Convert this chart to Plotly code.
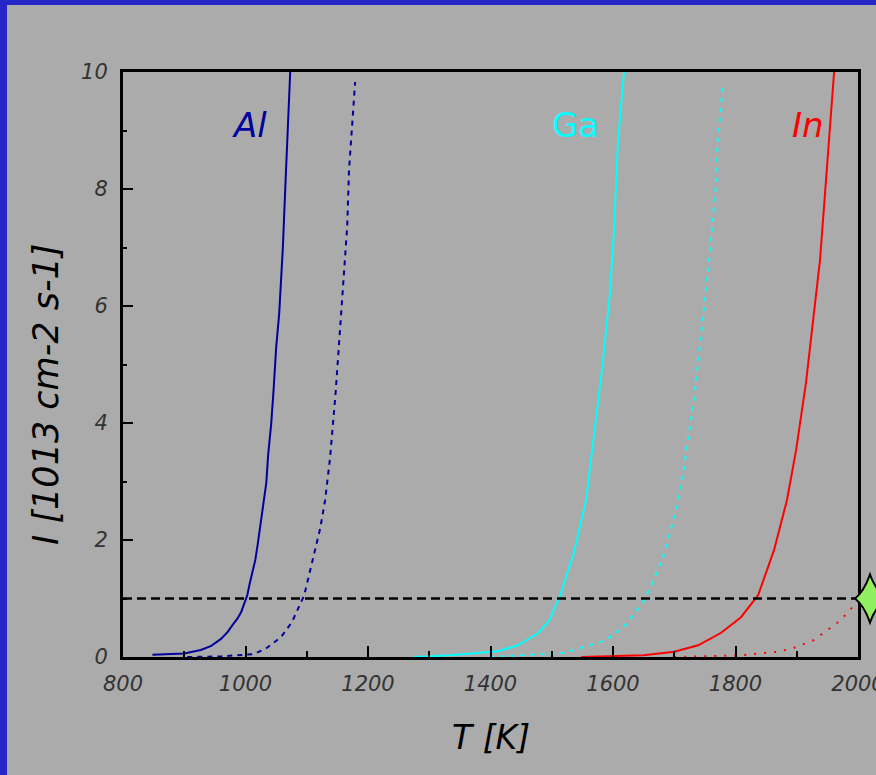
import plotly.graph_objects as go

# ---- data ----
al_T = [848, 900, 927, 944, 960, 971, 979, 987, 993, 998, 1003, 1007, 1012, 1016, 1020,
        1024, 1029, 1034, 1037, 1042, 1046, 1050, 1055, 1061, 1065, 1069, 1073]
al_I = [0.04, 0.06, 0.12, 0.19, 0.31, 0.43, 0.55, 0.66, 0.77, 0.91, 1.06, 1.26, 1.46, 1.66, 1.93,
        2.24, 2.57, 2.98, 3.46, 3.99, 4.59, 5.28, 5.87, 7.0, 8.03, 9.18, 10]

al2_T = [905, 960, 1014, 1034, 1058, 1076, 1096, 1112, 1122, 1130, 1138, 1147, 1156, 1166, 1169, 1176, 1179]
al2_I = [0.0, 0.01, 0.05, 0.15, 0.34, 0.6, 1.06, 1.78, 2.2, 2.68, 3.4, 4.5, 5.88, 7.35, 8.32, 9.35, 9.83]

ga_T = [1275, 1335, 1412, 1445, 1478, 1496, 1514, 1536, 1556, 1569, 1583, 1595, 1602, 1608, 1618]
ga_I = [0.0, 0.03, 0.1, 0.2, 0.41, 0.63, 1.06, 1.78, 2.68, 3.83, 5.0, 6.22, 7.35, 8.79, 10]

ga2_T = [1400, 1520, 1580, 1602, 1625, 1651, 1664, 1682, 1700, 1716, 1732, 1745, 1757, 1767, 1771, 1780]
ga2_I = [0.0, 0.07, 0.26, 0.38, 0.6, 0.97, 1.26, 1.71, 2.39, 3.25, 4.39, 5.6, 6.79, 7.93, 8.84, 9.81]

in_T = [1548, 1650, 1700, 1739, 1776, 1809, 1837, 1863, 1884, 1899, 1915, 1927, 1938, 1945, 1953, 1961]
in_I = [0.0, 0.03, 0.09, 0.2, 0.41, 0.68, 1.06, 1.83, 2.68, 3.54, 4.68, 5.8, 6.79, 7.76, 8.96, 10]

in2_T = [1700, 1809, 1869, 1894, 1928, 1951, 1972, 1994, 2000]
in2_I = [0.0, 0.03, 0.09, 0.15, 0.29, 0.46, 0.63, 0.89, 0.95]

ref_T = [800, 2000]
ref_I = [1, 1]

marker_I = [1]   # green marker sits on the right-hand axis at this level

x_ticks = [800, 1000, 1200, 1400, 1600, 1800, 2000]
y_ticks = [0, 2, 4, 6, 8, 10]

series_labels = ["Al", "Ga", "In"]

# ---- layout constants ----
W, H = 876, 775
L, R, T, B = 123, 18, 72, 118
PW, PH = W - L - R, H - T - B

def px(xp):
    return (xp - L) / PW

def py(yp):
    return (H - B - yp) / PH

NAVY = "#00009c"
CYAN = "#00ffff"
RED = "#ff0000"
FONT = "DejaVu Sans"

fig = go.Figure()

def line(xs, ys, color, dash):
    fig.add_trace(go.Scatter(x=xs, y=ys, mode="lines",
                             line=dict(color=color, width=2, dash=dash),
                             showlegend=False, hoverinfo="skip"))

line(al_T, al_I, NAVY, "solid")
line(al2_T, al2_I, NAVY, "5px,5px")
line(ga_T, ga_I, CYAN, "solid")
line(ga2_T, ga2_I, CYAN, "4px,6px")
line(in_T, in_I, RED, "solid")
line(in2_T, in2_I, RED, "2px,8px")

fig.add_trace(go.Scatter(x=ref_T, y=ref_I, mode="lines",
                         line=dict(color="black", width=2.5, dash="9px,5px"),
                         showlegend=False, hoverinfo="skip"))

tickfont = dict(family=FONT, size=21, color="#333333", style="italic")

fig.update_xaxes(range=[800, 2000], tickvals=x_ticks, ticks="inside", ticklen=11, tickwidth=2,
                 tickcolor="black", showline=True, linecolor="black", linewidth=3, mirror=True,
                 showgrid=False, zeroline=False, tickfont=tickfont, ticklabeloverflow="allow",
                 ticklabelstandoff=6,
                 minor=dict(ticks="inside", ticklen=6, tickwidth=2, tickcolor="black", dtick=100,
                            showgrid=False))
fig.update_yaxes(range=[0, 10], tickvals=y_ticks, ticks="inside", ticklen=10, tickwidth=2,
                 tickcolor="black", showline=True, linecolor="black", linewidth=3, mirror=True,
                 showgrid=False, zeroline=False, tickfont=tickfont, ticklabelstandoff=8,
                 minor=dict(ticks="inside", ticklen=4, tickwidth=2, tickcolor="black", dtick=1,
                            showgrid=False))

annos = [
    dict(x=1006, y=9.1, xref="x", yref="y", text=series_labels[0], showarrow=False,
         font=dict(family=FONT, size=34, color=NAVY, style="italic")),
    dict(x=1538, y=9.1, xref="x", yref="y", text=series_labels[1], showarrow=False,
         font=dict(family=FONT, size=34, color=CYAN)),
    dict(x=1919, y=9.1, xref="x", yref="y", text=series_labels[2], showarrow=False,
         font=dict(family=FONT, size=34, color=RED, style="italic")),
    dict(x=0.5, y=py(737), xref="paper", yref="paper", text="T [K]", showarrow=False,
         xanchor="center", yanchor="middle",
         font=dict(family=FONT, size=33, color="black", style="italic")),
    dict(x=px(46), y=py(395), xref="paper", yref="paper", text="I [1013 cm-2 s-1]",
         showarrow=False, textangle=-90, xanchor="center", yanchor="middle",
         font=dict(family=FONT, size=35, color="black", style="italic")),
]

# four-pointed green marker, anchored at the right axis end, sized in pixels
star_path = ("M -3,0 Q 6,7 12,24 Q 18,7 30,0 Q 18,-7 12,-24 Q 6,-7 -3,0 Z")

shapes = [
    dict(type="rect", xref="paper", yref="paper", x0=px(0), x1=px(7), y0=py(H), y1=py(0),
         fillcolor="#2626c6", line=dict(width=0), layer="above"),
    dict(type="rect", xref="paper", yref="paper", x0=px(0), x1=px(W), y0=py(5), y1=py(0),
         fillcolor="#2626c6", line=dict(width=0), layer="above"),
    dict(type="path", xref="x domain", yref="y", xsizemode="pixel", ysizemode="pixel",
         xanchor=1, yanchor=marker_I[0], path=star_path,
         fillcolor="#90ee60", line=dict(color="black", width=2), layer="above"),
]

fig.update_layout(width=W, height=H, margin=dict(l=L, r=R, t=T, b=B, autoexpand=False),
                  paper_bgcolor="#ababab", plot_bgcolor="#ababab",
                  annotations=annos, shapes=shapes, showlegend=False)

fig.write_html("out.html", config={"displayModeBar": False},
               post_script="document.body.style.margin='0';document.body.style.overflow='hidden';"
                           "document.body.style.background='#ababab';")
